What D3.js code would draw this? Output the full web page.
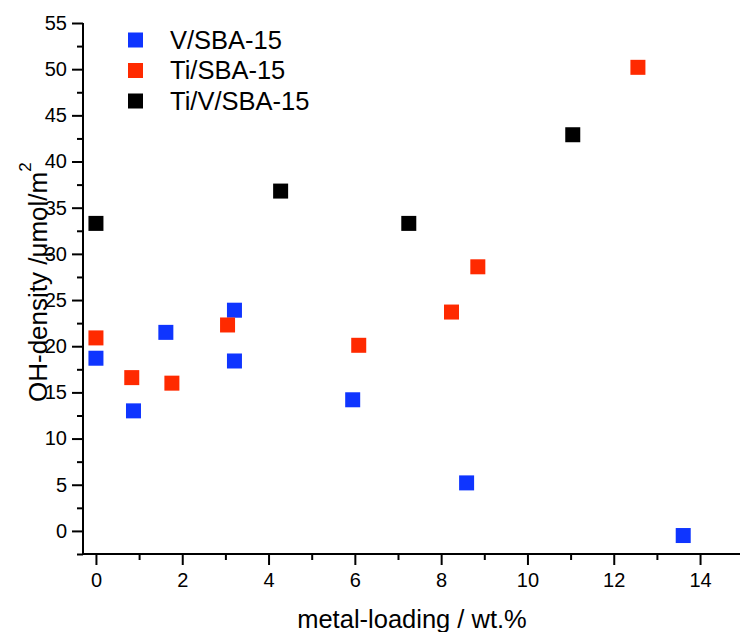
<!DOCTYPE html>
<html>
<head>
<meta charset="utf-8">
<script src="https://cdn.jsdelivr.net/npm/d3@7"></script>
<style>
  html, body { margin: 0; padding: 0; background: #fff; }
  svg { display: block; font-family: "Liberation Sans", Arial, sans-serif; }
</style>
</head>
<body>
<svg id="chart" width="740" height="632"></svg>
<script>
// ---- data ----
const seriesNames = ["V/SBA-15", "Ti/SBA-15", "Ti/V/SBA-15"];
const seriesColors = ["#0f35ff", "#ff2a00", "#000000"];

const vX = [0, 0.87, 1.62, 3.21, 3.21, 5.95, 8.59, 13.61];
const vY = [18.7, 13.0, 21.5, 23.9, 18.4, 14.2, 5.2, -0.5];

const tiX = [0, 0.83, 1.76, 3.05, 6.09, 8.24, 8.85, 12.56];
const tiY = [20.9, 16.6, 16.0, 22.3, 20.1, 23.7, 28.6, 50.2];

const tivX = [0, 4.28, 7.25, 11.05];
const tivY = [33.3, 36.8, 33.3, 42.9];

const xTicks = [0, 2, 4, 6, 8, 10, 12, 14];
const xMinorTicks = [1, 3, 5, 7, 9, 11, 13];
const yTicks = [0, 5, 10, 15, 20, 25, 30, 35, 40, 45, 50, 55];
const yMinorTicks = [-2.5, 2.5, 7.5, 12.5, 17.5, 22.5, 27.5, 32.5, 37.5, 42.5, 47.5, 52.5];

const xTitle = "metal-loading / wt.%";
const yTitle = "OH-density /\u03bcmol/m";
const yTitleSup = "2";

// ---- drawing ----
const svg = d3.select("#chart");
const x = d3.scaleLinear().domain([-0.3, 15]).range([83, 743.2]);
const y = d3.scaleLinear().domain([-2.5, 55]).range([554, 23]);

const xAxis = d3.axisBottom(x).tickValues(xTicks).tickSize(11).tickPadding(8).tickFormat(d3.format("d"));
const xMinor = d3.axisBottom(x).tickValues(xMinorTicks).tickSize(6).tickFormat("");
const yAxis = d3.axisLeft(y).tickValues(yTicks).tickSize(11).tickPadding(5).tickFormat(d3.format("d"));
const yMinor = d3.axisLeft(y).tickValues(yMinorTicks).tickSize(6).tickFormat("");

function styleAxis(g) {
  g.select(".domain").remove();
  g.selectAll(".tick line").attr("stroke", "#000").attr("stroke-width", 2);
  g.selectAll(".tick text").attr("fill", "#000").style("font-size", "20px")
    .style("font-family", "'Liberation Sans', Arial, sans-serif");
}

svg.append("g").attr("transform", "translate(0,554)").call(xAxis).call(styleAxis);
svg.append("g").attr("transform", "translate(0,554)").call(xMinor).call(styleAxis);
svg.append("g").attr("transform", "translate(83,0)").call(yAxis).call(styleAxis);
svg.append("g").attr("transform", "translate(83,0)").call(yMinor).call(styleAxis);

// axis lines
svg.append("line").attr("x1", 83).attr("x2", 740).attr("y1", 554).attr("y2", 554)
  .attr("stroke", "#000").attr("stroke-width", 2);
svg.append("line").attr("x1", 83).attr("x2", 83).attr("y1", y(55)).attr("y2", 555)
  .attr("stroke", "#000").attr("stroke-width", 2);

// series
const series = [
  { name: seriesNames[0], color: seriesColors[0], xs: vX, ys: vY },
  { name: seriesNames[1], color: seriesColors[1], xs: tiX, ys: tiY },
  { name: seriesNames[2], color: seriesColors[2], xs: tivX, ys: tivY }
];
const sz = 15;
series.forEach(s => {
  const pts = s.xs.map((d, i) => [d, s.ys[i]]);
  svg.append("g").selectAll("rect").data(pts).join("rect")
    .attr("x", d => x(d[0]) - sz / 2)
    .attr("y", d => y(d[1]) - sz / 2)
    .attr("width", sz).attr("height", sz)
    .attr("fill", s.color);
});

// legend
const leg = svg.append("g");
series.forEach((s, i) => {
  const cy = 40 + i * 30.5;
  leg.append("rect").attr("x", 128).attr("y", cy - 7.5).attr("width", 15).attr("height", 15).attr("fill", s.color);
  leg.append("text").attr("x", 170).attr("y", cy + 8.5).attr("fill", "#000")
    .style("font-size", "25.5px").text(s.name);
});

// axis titles
svg.append("text").attr("x", 412).attr("y", 628).attr("text-anchor", "middle")
  .attr("fill", "#000").style("font-size", "25.5px").text(xTitle);

const yt = svg.append("text").attr("transform", "translate(47,402) rotate(-90)")
  .attr("fill", "#000").style("font-size", "26px");
yt.append("tspan").text(yTitle);
yt.append("tspan").attr("dy", -16).style("font-size", "17px").text(yTitleSup);
</script>
</body>
</html>
